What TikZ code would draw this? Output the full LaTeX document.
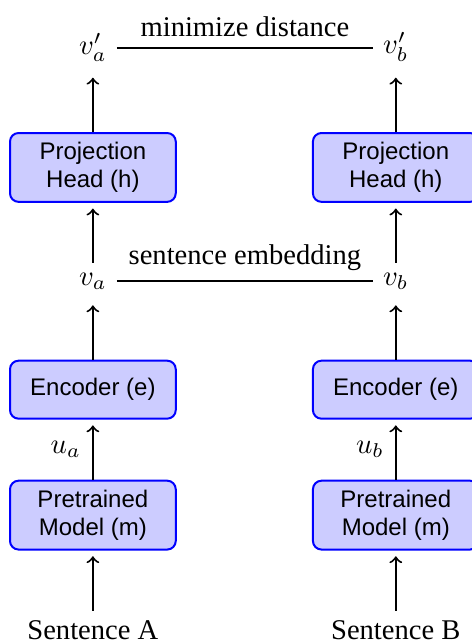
\documentclass[tikz,border=0pt]{standalone}
\usepackage{fontspec}
\setmainfont{Liberation Serif}
\setsansfont{Liberation Sans}
\usetikzlibrary{positioning}

\begin{document}
\begin{tikzpicture}[
        node distance=21pt,
        block/.style={rectangle, draw=blue, rounded corners=3pt, fill=blue!20, line width=0.7pt, align=center, minimum width=58pt, minimum height=20.3pt, font=\sffamily\fontsize{8.4}{9.6}\selectfont},
        link/.style={->, line width=0.7pt, shorten >=2pt},
        pair/.style={line width=0.7pt},
    ]
\useasboundingbox (0,0) rectangle (164.85pt,-225pt);

% left branch
\node[anchor=base] (SentA) at (32.5pt,-223.8pt) {Sentence A};
\node[block, above=of SentA] (ModelA) {Pretrained\\Model (m)};
\node[block, above=of ModelA] (EncA) {Encoder (e)};
\node[above=of EncA] (VecA) {$v_a$};
\node[block, above=of VecA] (HeadA) {Projection\\Head (h)};
\node[above=of HeadA] (ProjA) {$v'_a$};

% right branch
\node[anchor=base] (SentB) at ([xshift=106pt]SentA.base) {Sentence B};
\node[block, above=of SentB] (ModelB) {Pretrained\\Model (m)};
\node[block, above=of ModelB] (EncB) {Encoder (e)};
\node[above=of EncB] (VecB) {$v_b$};
\node[block, above=of VecB] (HeadB) {Projection\\Head (h)};
\node[above=of HeadB] (ProjB) {$v'_b$};

\draw[link] (SentA) -- (ModelA);
\draw[link] (ModelA) -- (EncA) node[midway, left=0.5pt] {$u_a$};
\draw[link] (EncA) -- (VecA);
\draw[link] (VecA) -- (HeadA);
\draw[link] (HeadA) -- (ProjA);

\draw[link] (SentB) -- (ModelB);
\draw[link] (ModelB) -- (EncB) node[midway, left=0.5pt] {$u_b$};
\draw[link] (EncB) -- (VecB);
\draw[link] (VecB) -- (HeadB);
\draw[link] (HeadB) -- (ProjB);

\draw[pair] (VecA) -- (VecA -| VecB.west) node[midway, above] {sentence embedding};
\draw[pair] (ProjA) -- (ProjA -| ProjB.west) node[midway, above] {minimize distance};
\end{tikzpicture}
\end{document}
